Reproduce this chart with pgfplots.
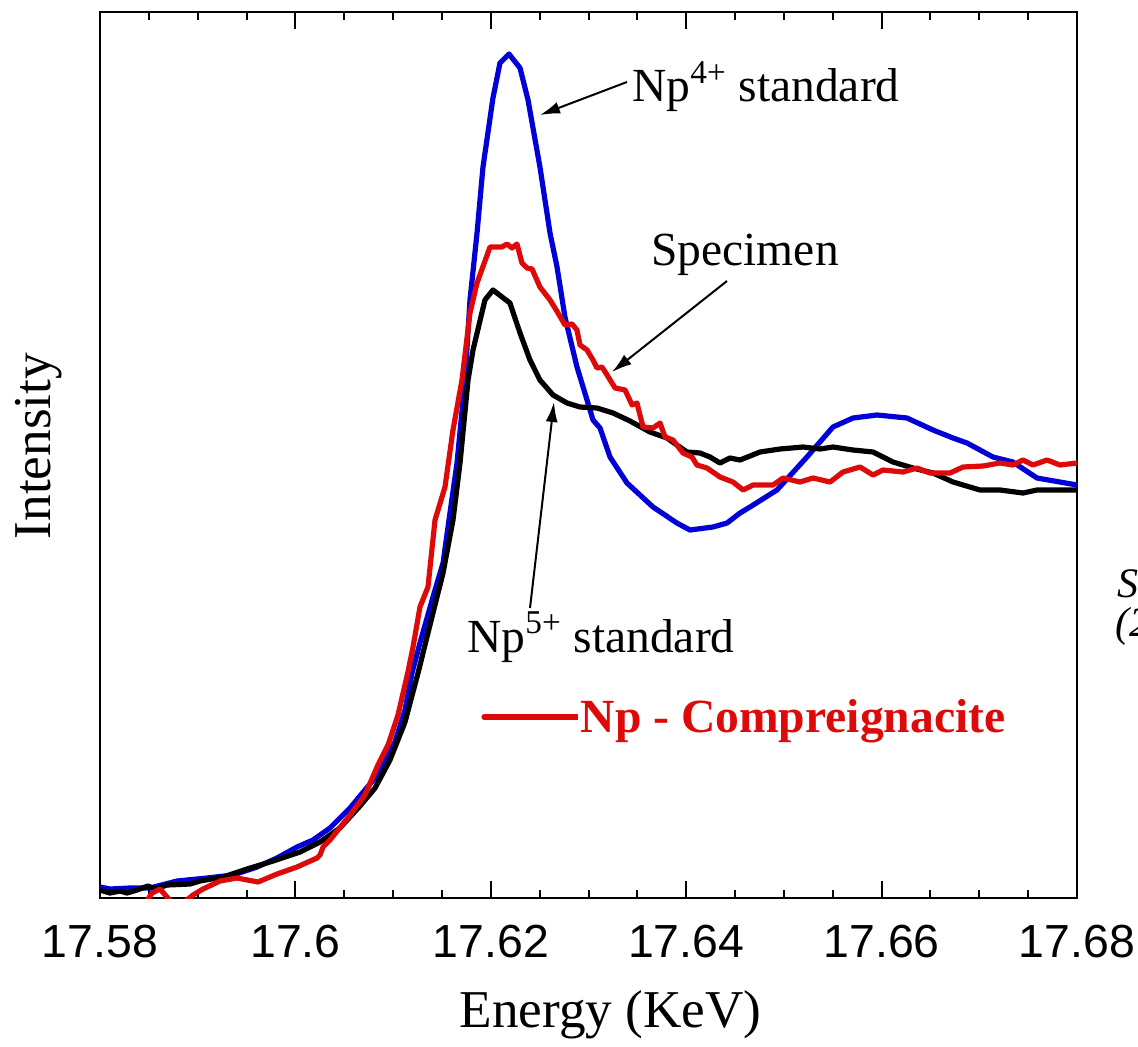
\documentclass[border=0pt]{standalone}
\usepackage{fontspec}
\setmainfont{Liberation Serif}
\newfontfamily\arial{Liberation Sans}
\usepackage{pgfplots}
\pgfplotsset{compat=1.18}
\usetikzlibrary{arrows.meta}
\definecolor{cblue}{RGB}{0,0,215}
\definecolor{cred}{RGB}{222,10,10}
\begin{document}
\begin{tikzpicture}
\begin{axis}[
  scale only axis, width=488.5pt, height=443pt,
  xmin=17.58, xmax=17.68, ymin=0, ymax=886,
  xtick={17.58,17.6,17.62,17.64,17.66,17.68},
  xticklabels={17.58,17.6,17.62,17.64,17.66,17.68},
  minor x tick num=3,
  ytick=\empty,
  major tick length=8.5pt, minor tick length=4pt,
  tick style={line width=1pt, black},
  axis line style={line width=1.2pt},
  xticklabel style={font=\arial\fontsize{23.2}{24}\selectfont, anchor=north, inner sep=0pt, yshift=-13.5pt},
  xlabel={Energy (KeV)}, ylabel={Intensity},
  xlabel style={at={(axis description cs:0.5225,-0.1467)}, anchor=base, font=\fontsize{26.6}{30}\selectfont, inner sep=0pt},
  ylabel style={at={(axis description cs:-0.0502,0.510)}, anchor=base, font=\fontsize{26.6}{30}\selectfont, inner sep=0pt},
  legend style={at={(axis description cs:0.390,0.2043)}, anchor=west, draw=none, fill=none, inner sep=0pt,
    font=\bfseries\fontsize{23.8}{28}\selectfont, text=cred, nodes={inner sep=0pt}},
  legend image code/.code={\draw[#1, line width=2.6pt, line cap=round] (0pt,0pt) -- (41pt,0pt); \path (0pt,0pt) -- (47pt,0pt);},
]
% Np4+ standard (blue)
\addplot[cblue, line width=2.6pt, forget plot, line join=round] coordinates {
(17.58000,11) (17.58102,9) (17.58307,10) (17.58512,10) (17.58788,17) (17.59095,20)
(17.59361,23) (17.59607,31) (17.59812,40) (17.60016,51) (17.60180,58) (17.60354,70)
(17.60559,90) (17.60712,108) (17.60866,126) (17.61019,156) (17.61122,188) (17.61193,225)
(17.61275,255) (17.61408,301) (17.61511,335) (17.61582,385) (17.61654,435) (17.61736,518)
(17.61787,598) (17.61859,665) (17.61920,731) (17.62022,800) (17.62094,835) (17.62186,844)
(17.62299,830) (17.62381,798) (17.62503,731) (17.62606,665) (17.62678,631) (17.62759,581)
(17.62882,531) (17.62985,498) (17.63046,478) (17.63118,470) (17.63220,441) (17.63394,415)
(17.63660,391) (17.63905,375) (17.64039,368) (17.64274,371) (17.64418,375) (17.64551,385)
(17.64653,391) (17.64929,408) (17.65236,441) (17.65502,471) (17.65707,480) (17.65953,483)
(17.66260,480) (17.66526,468) (17.66731,460) (17.66874,455) (17.67140,441) (17.67344,436)
(17.67590,420) (17.68000,413)
};
% Np5+ standard (black)
\addplot[black, line width=2.6pt, forget plot, line join=round] coordinates {
(17.58000,8) (17.58102,5) (17.58205,7) (17.58276,5) (17.58379,8) (17.58491,12)
(17.58563,9) (17.58686,13) (17.58921,14) (17.59024,17) (17.59259,21) (17.59505,29)
(17.59771,37) (17.60047,46) (17.60252,56) (17.60456,70) (17.60661,92) (17.60815,110)
(17.60968,138) (17.61122,176) (17.61255,225) (17.61408,285) (17.61511,325) (17.61613,378)
(17.61685,435) (17.61767,518) (17.61818,548) (17.61940,598) (17.62022,608) (17.62196,595)
(17.62299,565) (17.62401,538) (17.62503,518) (17.62637,503) (17.62780,495) (17.62913,491)
(17.63087,490) (17.63251,485) (17.63425,477) (17.63629,466) (17.63803,460) (17.64008,446)
(17.64141,445) (17.64244,441) (17.64346,435) (17.64448,440) (17.64551,438) (17.64755,446)
(17.64960,449) (17.65196,451) (17.65370,449) (17.65502,451) (17.65707,448) (17.65912,446)
(17.66116,436) (17.66321,430) (17.66526,425) (17.66731,416) (17.67007,408) (17.67212,408)
(17.67447,405) (17.67590,408) (17.68000,408)
};
% Specimen (red)
\addplot[cred, line width=2.6pt, line join=round] coordinates {
(17.58409,-14) (17.58532,5) (17.58614,9) (17.58686,1) (17.58788,-10) (17.58952,3)
(17.59054,9) (17.59228,17) (17.59402,20) (17.59617,16) (17.59812,24) (17.60016,31)
(17.60221,40) (17.60252,43) (17.60283,51) (17.60354,58) (17.60559,83) (17.60712,103)
(17.60845,133) (17.60948,153) (17.61050,183) (17.61152,226) (17.61204,251) (17.61275,291)
(17.61357,311) (17.61429,378) (17.61531,411) (17.61613,468) (17.61705,518) (17.61787,585)
(17.61859,615) (17.61992,651) (17.62114,651) (17.62166,654) (17.62217,650) (17.62268,654)
(17.62319,635) (17.62370,630) (17.62422,629) (17.62503,611) (17.62606,598) (17.62688,585)
(17.62759,573) (17.62831,574) (17.62882,568) (17.62913,553) (17.62985,548) (17.63046,538)
(17.63087,530) (17.63138,531) (17.63190,523) (17.63272,510) (17.63374,508) (17.63446,493)
(17.63496,495) (17.63558,471) (17.63660,470) (17.63732,475) (17.63783,461) (17.63865,458)
(17.63967,445) (17.64059,441) (17.64110,433) (17.64213,430) (17.64346,421) (17.64479,416)
(17.64582,408) (17.64684,413) (17.64888,413) (17.64991,420) (17.65165,416) (17.65298,420)
(17.65472,416) (17.65605,426) (17.65779,431) (17.65912,423) (17.66014,428) (17.66219,426)
(17.66362,430) (17.66495,425) (17.66700,425) (17.66833,431) (17.67038,432) (17.67212,435)
(17.67344,433) (17.67447,438) (17.67549,433) (17.67693,438) (17.67826,433) (17.68000,435)
};
\addlegendentry{Np - Compreignacite}
\end{axis}
\begin{scope}[shift={(-50pt,449pt)}, x=0.5pt, y=-0.5pt]
  \node[anchor=base west, inner sep=0pt, font=\fontsize{23.75}{28}\selectfont] at (632,102) {Np\textsuperscript{4+} standard};
  \node[anchor=base west, inner sep=0pt, font=\fontsize{23.75}{28}\selectfont] at (651,265) {Specimen};
  \node[anchor=base west, inner sep=0pt, font=\fontsize{23.75}{28}\selectfont] at (467,652) {Np\textsuperscript{5+} standard};
  \draw[line width=1pt, -{Latex[length=10pt,width=6pt]}] (627,82) -- (540,115);
  \draw[line width=1pt, -{Latex[length=10pt,width=6pt]}] (727,281) -- (612,372);
  \draw[line width=1pt, -{Latex[length=10pt,width=6pt]}] (530,608) -- (554,402);
  \node[anchor=base west, inner sep=0pt, font=\itshape\fontsize{21}{24}\selectfont] at (1117,597) {Sh};
  \node[anchor=base west, inner sep=0pt, font=\itshape\fontsize{21}{24}\selectfont] at (1115,636) {(2};
\end{scope}
\pgfresetboundingbox
\path[use as bounding box] (-50pt,-74pt) rectangle (519pt,449pt);
\end{tikzpicture}
\end{document}
